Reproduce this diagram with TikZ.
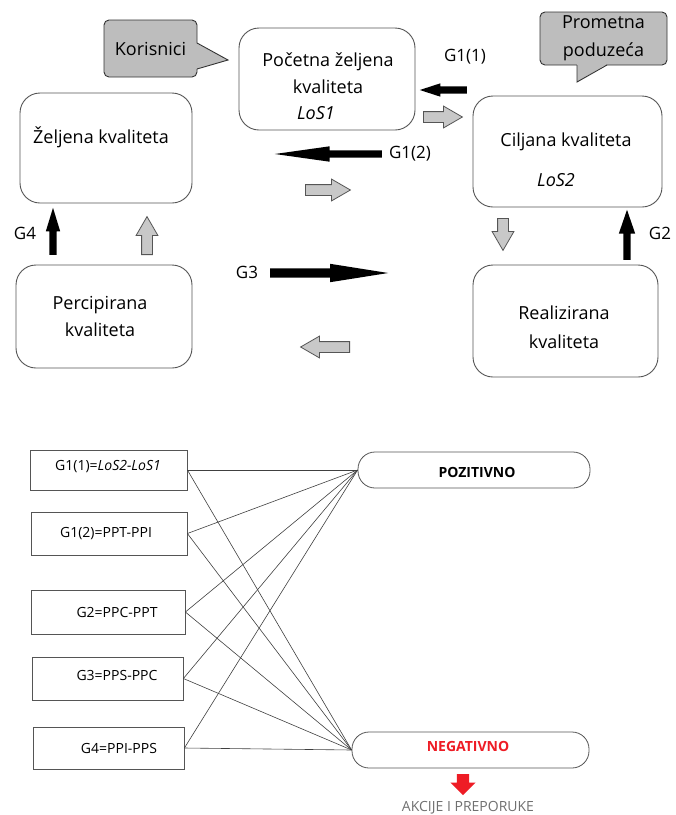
\documentclass[tikz,border=0pt]{standalone}
\usepackage{fontspec}
\setmainfont{Open Sans}
\usetikzlibrary{shapes.arrows,calc}
\definecolor{edge}{HTML}{555555}
\definecolor{callfill}{HTML}{BDBDBD}
\definecolor{grayfill}{HTML}{C8C8C8}
\definecolor{redneg}{HTML}{EE1C25}
\definecolor{akc}{HTML}{707070}
\begin{document}
\begin{tikzpicture}[x=1pt,y=-1pt,
  bigbox/.style={draw=edge, line width=0.9pt, rounded corners=20pt, inner sep=0pt},
  bigtxt/.style={align=center, font=\fontsize{18}{27}\selectfont, inner sep=0pt},
  gtxt/.style={font=\fontsize{17}{20}\selectfont, inner sep=0pt},
  callbox/.style={draw=black!80, fill=callfill, line width=0.9pt, rounded corners=5pt, inner sep=0pt, align=center, font=\fontsize{18}{28}\selectfont},
  sqbox/.style={draw=edge, line width=0.8pt, inner sep=0pt},
  smalltxt/.style={font=\fontsize{14}{17}\selectfont, inner sep=0pt},
  pill/.style={draw=edge, line width=0.8pt, rounded corners=17pt, inner sep=0pt, font=\fontsize{14}{17}\selectfont\bfseries},
  link/.style={draw=black!75, line width=0.6pt},
  blkarrow/.style={single arrow, fill=black, draw=none, inner xsep=0pt, inner ysep=3.5pt, anchor=tail},
  gryarrow/.style={single arrow, fill=grayfill, draw=edge, line width=0.8pt, inner xsep=0pt, inner ysep=5pt, anchor=tail, minimum width=21pt, single arrow head extend=5.5pt, single arrow tip angle=60},
]
\fill[white] (0,0) rectangle (676,815);
\useasboundingbox (0,0) rectangle (676,815);

% ---- callouts
\node[callbox, minimum width=93pt, minimum height=57pt] (kor) at (150.5,48.5) {Korisnici};
\fill[callfill] (196,43) -- (228,60) -- (196,69) -- cycle;
\draw[black!80, line width=0.9pt] (197,43) -- (228,60) -- (197,69);

\node[callbox, minimum width=127pt, minimum height=53pt] (prom) at (603.5,38.5) {Prometna\\poduzeća};
\fill[callfill] (577,64) -- (577,82) -- (607,64) -- cycle;
\draw[black!80, line width=0.9pt] (577,65) -- (577,82) -- (607,65);

% ---- main boxes
\node[bigbox, minimum width=176pt, minimum height=102pt] (pocetna) at (327,79) {};
\node[bigtxt] (pocetna-t) at (328,73) {Početna željena\\kvaliteta};
\node[bigtxt, font=\fontsize{18}{27}\selectfont\itshape] (los1) at (316,113) {LoS1};

\node[bigbox, minimum width=172pt, minimum height=110pt] (zeljena) at (106,148) {};
\node[bigtxt] (zeljena-t) at (101,137) {Željena kvaliteta};

\node[bigbox, minimum width=189pt, minimum height=111pt] (ciljana) at (567.5,151.5) {};
\node[bigtxt] (ciljana-t) at (566,142) {Ciljana kvaliteta};
\node[bigtxt, font=\fontsize{18}{27}\selectfont\itshape] (los2) at (556,180) {LoS2};

\node[bigbox, minimum width=176pt, minimum height=103pt] (percip) at (104,316.5) {};
\node[bigtxt] (percip-t) at (100,316.5) {Percipirana\\kvaliteta};

\node[bigbox, minimum width=185pt, minimum height=112pt] (realiz) at (565.5,321) {};
\node[bigtxt, font=\fontsize{18}{29}\selectfont] (realiz-t) at (564,327.5) {Realizirana\\kvaliteta};

% ---- black arrows
\node[blkarrow, rotate=180, minimum height=47pt, minimum width=13pt, single arrow head extend=3pt, single arrow tip angle=36] (a11) at (467,90) {};
\node[blkarrow, rotate=180, minimum height=107pt, minimum width=15pt, single arrow head extend=4pt, single arrow tip angle=16] (a12) at (382,154) {};
\node[blkarrow, inner ysep=4.5pt, minimum height=118pt, minimum width=18pt, single arrow head extend=4.5pt, single arrow tip angle=18] (a3) at (270,273) {};
\node[blkarrow, rotate=90, minimum height=47pt, minimum width=14pt, single arrow head extend=3.5pt, single arrow tip angle=34] (a4) at (53,255) {};
\node[blkarrow, rotate=90, minimum height=50pt, minimum width=16pt, single arrow head extend=4.5pt, single arrow tip angle=38] (a2) at (627,260) {};

% ---- gray arrows
\node[gryarrow, minimum height=39pt] (r1) at (423,117) {};
\node[gryarrow, minimum height=45pt] (r2) at (305,190) {};
\node[gryarrow, rotate=90, minimum height=38pt] (up1) at (147,255) {};
\node[gryarrow, rotate=-90, minimum height=32pt] (dn1) at (503,218) {};
\node[gryarrow, rotate=180, minimum height=49pt] (lf1) at (350,347) {};

% ---- G labels
\node[gtxt] (l11) at (465,57) {G1(1)};
\node[gtxt] (l12) at (410,154) {G1(2)};
\node[gtxt] (l3) at (247,272) {G3};
\node[gtxt] (l4) at (25,233) {G4};
\node[gtxt] (l2) at (660,233) {G2};

% ---- bottom section
\node[sqbox, minimum width=157pt, minimum height=40pt] (g11) at (108.5,470) {};
\node[smalltxt] (g11-t) at (108,467) {G1(1)=\textit{LoS2-LoS1}};
\node[sqbox, minimum width=156pt, minimum height=43pt] (g12) at (109,533.5) {};
\node[smalltxt] (g12-t) at (106,534) {G1(2)=PPT-PPI};
\node[sqbox, minimum width=154pt, minimum height=44pt] (g2) at (108,612) {};
\node[smalltxt] (g2-t) at (117,612) {G2=PPC-PPT};
\node[sqbox, minimum width=151pt, minimum height=43pt] (g3) at (107.5,678.5) {};
\node[smalltxt] (g3-t) at (117,675) {G3=PPS-PPC};
\node[sqbox, minimum width=151pt, minimum height=42pt] (g4) at (108.5,748) {};
\node[smalltxt] (g4-t) at (119,748) {G4=PPI-PPS};

\node[pill, minimum width=232pt, minimum height=36pt] (poz) at (474,470) {};
\node[smalltxt, font=\fontsize{14}{17}\selectfont\bfseries] (poz-t) at (477,472) {POZITIVNO};
\node[pill, minimum width=237pt, minimum height=36pt] (neg) at (470.5,750) {};
\node[smalltxt, font=\fontsize{14}{17}\selectfont\bfseries, text=redneg] (neg-t) at (468,746) {NEGATIVNO};

\foreach \g in {g11,g12,g2,g3,g4}{
  \draw[link] (\g.east) -- (poz.west);
  \draw[link] (\g.east) -- (neg.west);
}

\node[single arrow, fill=redneg, draw=none, rotate=-90, anchor=tail, inner xsep=0pt, inner ysep=6pt, minimum height=21pt, minimum width=25pt, single arrow head extend=6.5pt, single arrow tip angle=90] (redarr) at (463,774) {};
\node[smalltxt, text=akc] (akc) at (468,808) {AKCIJE I PREPORUKE};
\end{tikzpicture}
\end{document}
